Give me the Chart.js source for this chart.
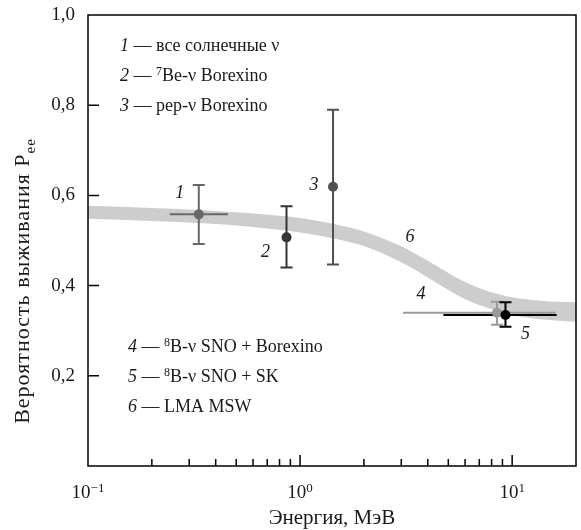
<!DOCTYPE html>
<html>
<head>
<meta charset="utf-8">
<script src="https://cdn.jsdelivr.net/npm/chart.js@4"></script>
<style>
  html, body { margin: 0; padding: 0; background: #fff; }
  #wrap { width: 581px; height: 530px; }
</style>
</head>
<body>
<div id="wrap"><canvas id="pee" width="581" height="530"></canvas></div>
<script>
// measured points (energy in MeV, survival probability)
const pointEnergy = [0.333, 0.863, 1.43, 8.48, 9.3];
const pointPee    = [0.558, 0.507, 0.619, 0.340, 0.335];
const peeLow      = [0.492, 0.440, 0.447, 0.313, 0.309];
const peeHigh     = [0.623, 0.576, 0.790, 0.364, 0.363];
const energyLow   = [0.243, null, null, 3.06, 4.74];
const energyHigh  = [0.457, null, null, 16.0, 16.2];
const pointColors = ['#686868', '#353535', '#505050', '#9a9a9a', '#000000'];
const pointLabels = ['1', '2', '3', '4', '5'];

// LMA MSW band
const bandEnergy = [0.1, 0.2, 0.35, 0.6, 1.0, 1.5, 2.0, 3.0, 4.0, 5.0, 6.0, 8.0, 10, 14, 20];
const bandUpper  = [0.577, 0.572, 0.567, 0.560, 0.550, 0.535, 0.520, 0.487, 0.455, 0.428, 0.408, 0.385, 0.374, 0.366, 0.363];
const bandLower  = [0.548, 0.543, 0.538, 0.530, 0.518, 0.503, 0.488, 0.452, 0.418, 0.390, 0.370, 0.348, 0.335, 0.325, 0.320];

// legend
const legendNums = ['1', '2', '3', '4', '5', '6'];
const legendSup  = ['', '7', '', '8', '8', ''];
const legendText = ['все солнечные ν', 'Be-ν Borexino', 'pep-ν Borexino', 'B-ν SNO + Borexino', 'B-ν SNO + SK', 'LMA MSW'];

const yTicks = [0.2, 0.4, 0.6, 0.8, 1.0];
const yTickLabels = ['0,2', '0,4', '0,6', '0,8', '1,0'];
const xDecades = [0.1, 1, 10];
const xExp = ['−1', '0', '1'];
const xTitle = 'Энергия, МэВ';
const yTitle = 'Вероятность выживания P';
const yTitleSub = 'ee';

const SERIF = "'Liberation Serif', 'DejaVu Serif', serif";
const INK = '#1a1a1a';

function font(size, italic) {
  return (italic ? 'italic ' : '') + size + 'px ' + SERIF;
}

// draws a run of text pieces, returns the width
function rich(ctx, x, y, parts, size) {
  size = size || 18;
  let cx = x;
  parts.forEach(p => {
    let dy = 0;
    if (p.sup) { ctx.font = font(Math.round(size * 0.67)); dy = -size / 3; }
    else if (p.sub) { ctx.font = font(Math.round(size * 0.67)); dy = size / 4; }
    else ctx.font = font(size, p.it);
    ctx.fillText(p.t, cx, y + dy);
    cx += ctx.measureText(p.t).width;
  });
  return cx - x;
}

function richWidth(ctx, parts, size) {
  size = size || 18;
  let w = 0;
  parts.forEach(p => {
    ctx.font = (p.sup || p.sub) ? font(Math.round(size * 0.67)) : font(size, p.it);
    w += ctx.measureText(p.t).width;
  });
  return w;
}

const decor = {
  id: 'decor',
  beforeDatasetDraw(chart, args) {
    if (args.meta._dataset.id !== 'pts') return;
    const ctx = chart.ctx, xs = chart.scales.x, ys = chart.scales.y;
    ctx.save();
    ctx.lineWidth = 2;
    pointEnergy.forEach((e, i) => {
      ctx.strokeStyle = pointColors[i];
      const px = xs.getPixelForValue(e);
      const py = ys.getPixelForValue(pointPee[i]);
      const top = ys.getPixelForValue(peeHigh[i]);
      const bot = ys.getPixelForValue(peeLow[i]);
      ctx.beginPath();
      ctx.moveTo(px, top); ctx.lineTo(px, bot);
      ctx.moveTo(px - 6, top); ctx.lineTo(px + 6, top);
      ctx.moveTo(px - 6, bot); ctx.lineTo(px + 6, bot);
      if (energyLow[i] !== null) {
        ctx.moveTo(xs.getPixelForValue(energyLow[i]), py);
        ctx.lineTo(xs.getPixelForValue(energyHigh[i]), py);
      }
      ctx.stroke();
    });
    ctx.restore();
  },
  afterDraw(chart) {
    const ctx = chart.ctx, a = chart.chartArea, xs = chart.scales.x, ys = chart.scales.y;
    ctx.save();
    // frame
    ctx.strokeStyle = '#000';
    ctx.lineWidth = 1.5;
    ctx.strokeRect(a.left, a.top, a.right - a.left, a.bottom - a.top);
    // inward ticks
    ctx.beginPath();
    yTicks.forEach(v => {
      if (v >= ys.max) return;
      const py = ys.getPixelForValue(v);
      ctx.moveTo(a.left, py); ctx.lineTo(a.left + 11, py);
    });
    xDecades.forEach(d => {
      for (let m = 1; m <= 9; m++) {
        const v = d * m;
        if (v <= xs.min || v >= xs.max) continue;
        const px = xs.getPixelForValue(v);
        ctx.moveTo(px, a.bottom); ctx.lineTo(px, a.bottom - (m === 1 ? 11 : 7));
      }
    });
    ctx.stroke();

    ctx.fillStyle = INK;
    // y tick labels
    ctx.font = font(19);
    ctx.textAlign = 'right';
    ctx.textBaseline = 'middle';
    yTicks.forEach((v, i) => ctx.fillText(yTickLabels[i], a.left - 13, ys.getPixelForValue(v)));

    ctx.textAlign = 'left';
    ctx.textBaseline = 'alphabetic';
    // x tick labels
    xDecades.forEach((d, i) => {
      const parts = [{t: '10'}, {t: xExp[i], sup: true}];
      const w = richWidth(ctx, parts, 19);
      rich(ctx, xs.getPixelForValue(d) - w / 2, 498, parts, 19);
    });
    // axis titles
    let w = richWidth(ctx, [{t: xTitle}], 21);
    rich(ctx, (a.left + a.right) / 2 - w / 2, 524, [{t: xTitle}], 21);
    ctx.save();
    ctx.translate(29, 281);
    ctx.rotate(-Math.PI / 2);
    ctx.letterSpacing = '1px';
    const yParts = [{t: yTitle}, {t: yTitleSub, sub: true}];
    w = richWidth(ctx, yParts, 22);
    rich(ctx, -w / 2, 0, yParts, 22);
    ctx.restore();

    // legend
    const rows = [[120, 51], [120, 81], [120, 111], [128, 352], [128, 382], [128, 412]];
    legendNums.forEach((n, i) => {
      const parts = [{t: n, it: true}, {t: ' — '}];
      if (legendSup[i]) parts.push({t: legendSup[i], sup: true});
      parts.push({t: legendText[i]});
      rich(ctx, rows[i][0], rows[i][1], parts);
    });

    // point labels
    ctx.textAlign = 'center';
    ctx.font = font(18, true);
    const offs = [[-19, -16], [-21, 20], [-19, 3], [-76, -14], [20, 24]];
    pointEnergy.forEach((e, i) => {
      ctx.fillText(pointLabels[i], xs.getPixelForValue(e) + offs[i][0], ys.getPixelForValue(pointPee[i]) + offs[i][1]);
    });
    ctx.fillText('6', xs.getPixelForValue(3.3), ys.getPixelForValue(0.51) + 6);
    ctx.restore();
  }
};

new Chart(document.getElementById('pee').getContext('2d'), {
  type: 'scatter',
  data: {
    datasets: [
      {
        id: 'bandTop',
        data: bandEnergy.map((e, i) => ({x: e, y: bandUpper[i]})),
        showLine: true, borderWidth: 0, pointRadius: 0,
        borderColor: 'rgba(0,0,0,0)',
        cubicInterpolationMode: 'monotone', fill: false, order: 5
      },
      {
        id: 'bandLow',
        data: bandEnergy.map((e, i) => ({x: e, y: bandLower[i]})),
        showLine: true, borderWidth: 0, pointRadius: 0,
        borderColor: 'rgba(0,0,0,0)',
        backgroundColor: '#cdcdcd',
        cubicInterpolationMode: 'monotone', fill: '-1', order: 4
      },
      {
        id: 'pts',
        data: pointEnergy.map((e, i) => ({x: e, y: pointPee[i]})),
        pointRadius: 5, pointBorderWidth: 0,
        pointBackgroundColor: pointColors,
        pointBorderColor: pointColors,
        order: 0
      }
    ]
  },
  options: {
    responsive: false,
    animation: false,
    devicePixelRatio: 1,
    layout: { padding: { top: 15, right: 2, left: 0, bottom: 0 } },
    plugins: { legend: { display: false }, tooltip: { enabled: false } },
    scales: {
      x: {
        type: 'logarithmic', min: 0.1, max: 20,
        ticks: { display: false },
        grid: { display: false },
        border: { display: false },
        afterFit(s) { s.height = 64; }
      },
      y: {
        min: 0, max: 1,
        ticks: { display: false },
        grid: { display: false },
        border: { display: false },
        afterFit(s) { s.width = 88; }
      }
    }
  },
  plugins: [decor]
});
</script>
</body>
</html>
